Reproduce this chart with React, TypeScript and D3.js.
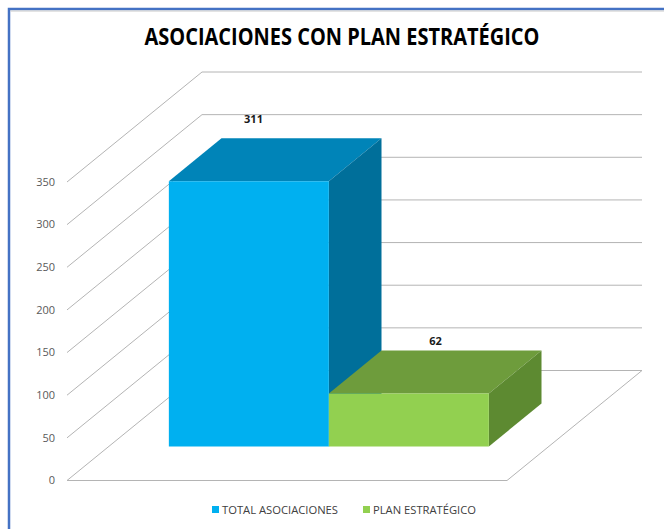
import React from "react";
import * as d3 from "d3";

const title = "ASOCIACIONES CON PLAN ESTRATÉGICO";
const series = ["TOTAL ASOCIACIONES", "PLAN ESTRATÉGICO"];
const values = [311, 62];
const yTicks = [0, 50, 100, 150, 200, 250, 300, 350];
const frontColors = ["#00B0F0", "#92D050"];
const topColors = ["#0084B8", "#6E9C3C"];
const sideColors = ["#006F9A", "#5D8A31"];

const W = 664;
const H = 529;
// 3D box geometry
const X0 = 67;
const X1 = 507;
const DX = 135;
const DY = -110;
const D_FRONT = 0.31;
const D_BACK = 0.7;
const LABEL_DX = [-48, -26];
const LABEL_DY = [-15, -6];

export default function App() {
  const y = d3.scaleLinear().domain([0, 350]).range([480.5, 182]);
  const xb = d3
    .scaleBand<string>()
    .domain(series)
    .range([0, X1 - X0])
    .paddingInner(0)
    .paddingOuter(0.375);

  const proj = (xOff: number, v: number, d: number): [number, number] => [
    X0 + xOff + d * DX,
    y(v) + d * DY,
  ];
  const pts = (arr: [number, number][]) => arr.map((p) => p.join(",")).join(" ");

  const grid = "#B4B4B4";

  return (
    <svg
      width={W}
      height={H}
      style={{ position: "fixed", left: 0, top: 0, background: "#fff" }}
      fontFamily="'Open Sans', 'Liberation Sans', sans-serif"
    >
      <rect x={0} y={0} width={W} height={H} fill="#fff" />
      <rect x={9} y={9} width={720} height={620} fill="none" stroke="#4472C4" strokeWidth={2.5} />
      <line x1={10.5} y1={11} x2={W} y2={11} stroke="#C8C8C8" strokeWidth={1} />

      <text
        x={342}
        y={45}
        textAnchor="middle"
        fontSize={23}
        fontWeight="bold"
        fill="#000"
        fontFamily="'Open Sans', sans-serif"
        textLength={395}
        lengthAdjust="spacingAndGlyphs"
      >
        {title}
      </text>

      {/* gridlines: left wall diagonal + back wall horizontal */}
      {yTicks.map((t) => {
        const a = proj(0, t, 0);
        const b = proj(0, t, 1);
        const c = proj(X1 - X0, t, 1);
        return (
          <polyline
            key={t}
            points={pts([a, b, c])}
            fill="none"
            stroke={grid}
            strokeWidth={1}
          />
        );
      })}
      {/* floor */}
      <polyline
        points={pts([proj(0, 0, 0), proj(X1 - X0, 0, 0), proj(X1 - X0, 0, 1)])}
        fill="none"
        stroke={grid}
        strokeWidth={1}
      />

      {/* y axis labels */}
      {yTicks.map((t) => (
        <text
          key={"l" + t}
          x={55}
          y={y(t)}
          dy="0.35em"
          textAnchor="end"
          fontSize={11}
          fill="#595959"
          fontFamily="'Open Sans', sans-serif"
        >
          {t}
        </text>
      ))}

      {/* bars */}
      {series.map((s, i) => {
        const xl = xb(s)!;
        const xr = xl + xb.bandwidth();
        const v = values[i];
        const fbl = proj(xl, 0, D_FRONT);
        const fbr = proj(xr, 0, D_FRONT);
        const ftl = proj(xl, v, D_FRONT);
        const ftr = proj(xr, v, D_FRONT);
        const btl = proj(xl, v, D_BACK);
        const btr = proj(xr, v, D_BACK);
        const bbr = proj(xr, 0, D_BACK);
        return (
          <g key={s}>
            <polygon points={pts([ftl, ftr, btr, btl])} fill={topColors[i]} />
            <polygon points={pts([ftr, fbr, bbr, btr])} fill={sideColors[i]} />
            <polygon points={pts([fbl, fbr, ftr, ftl])} fill={frontColors[i]} />
          </g>
        );
      })}

      {/* data labels */}
      {series.map((s, i) => {
        const xl = xb(s)!;
        const cx = xl + xb.bandwidth() / 2;
        const [px, py] = proj(cx, values[i], D_BACK);
        return (
          <text
            key={"v" + s}
            x={px + LABEL_DX[i]}
            y={py + LABEL_DY[i]}
            textAnchor="middle"
            fontSize={11}
            fontWeight="bold"
            fill="#1a1a1a"
            fontFamily="'Open Sans', sans-serif"
          >
            {values[i]}
          </text>
        );
      })}

      {/* legend */}
      {series.map((s, i) => {
        const lx = [212, 363][i];
        return (
          <g key={"lg" + s}>
            <rect x={lx} y={506} width={7} height={7} fill={frontColors[i]} />
            <text
              x={lx + 10}
              y={510}
              dy="0.35em"
              fontSize={11}
              fill="#404040"
              fontFamily="'Open Sans', sans-serif"
              textLength={i === 0 ? 116 : 103}
              lengthAdjust="spacingAndGlyphs"
            >
              {s}
            </text>
          </g>
        );
      })}
    </svg>
  );
}
